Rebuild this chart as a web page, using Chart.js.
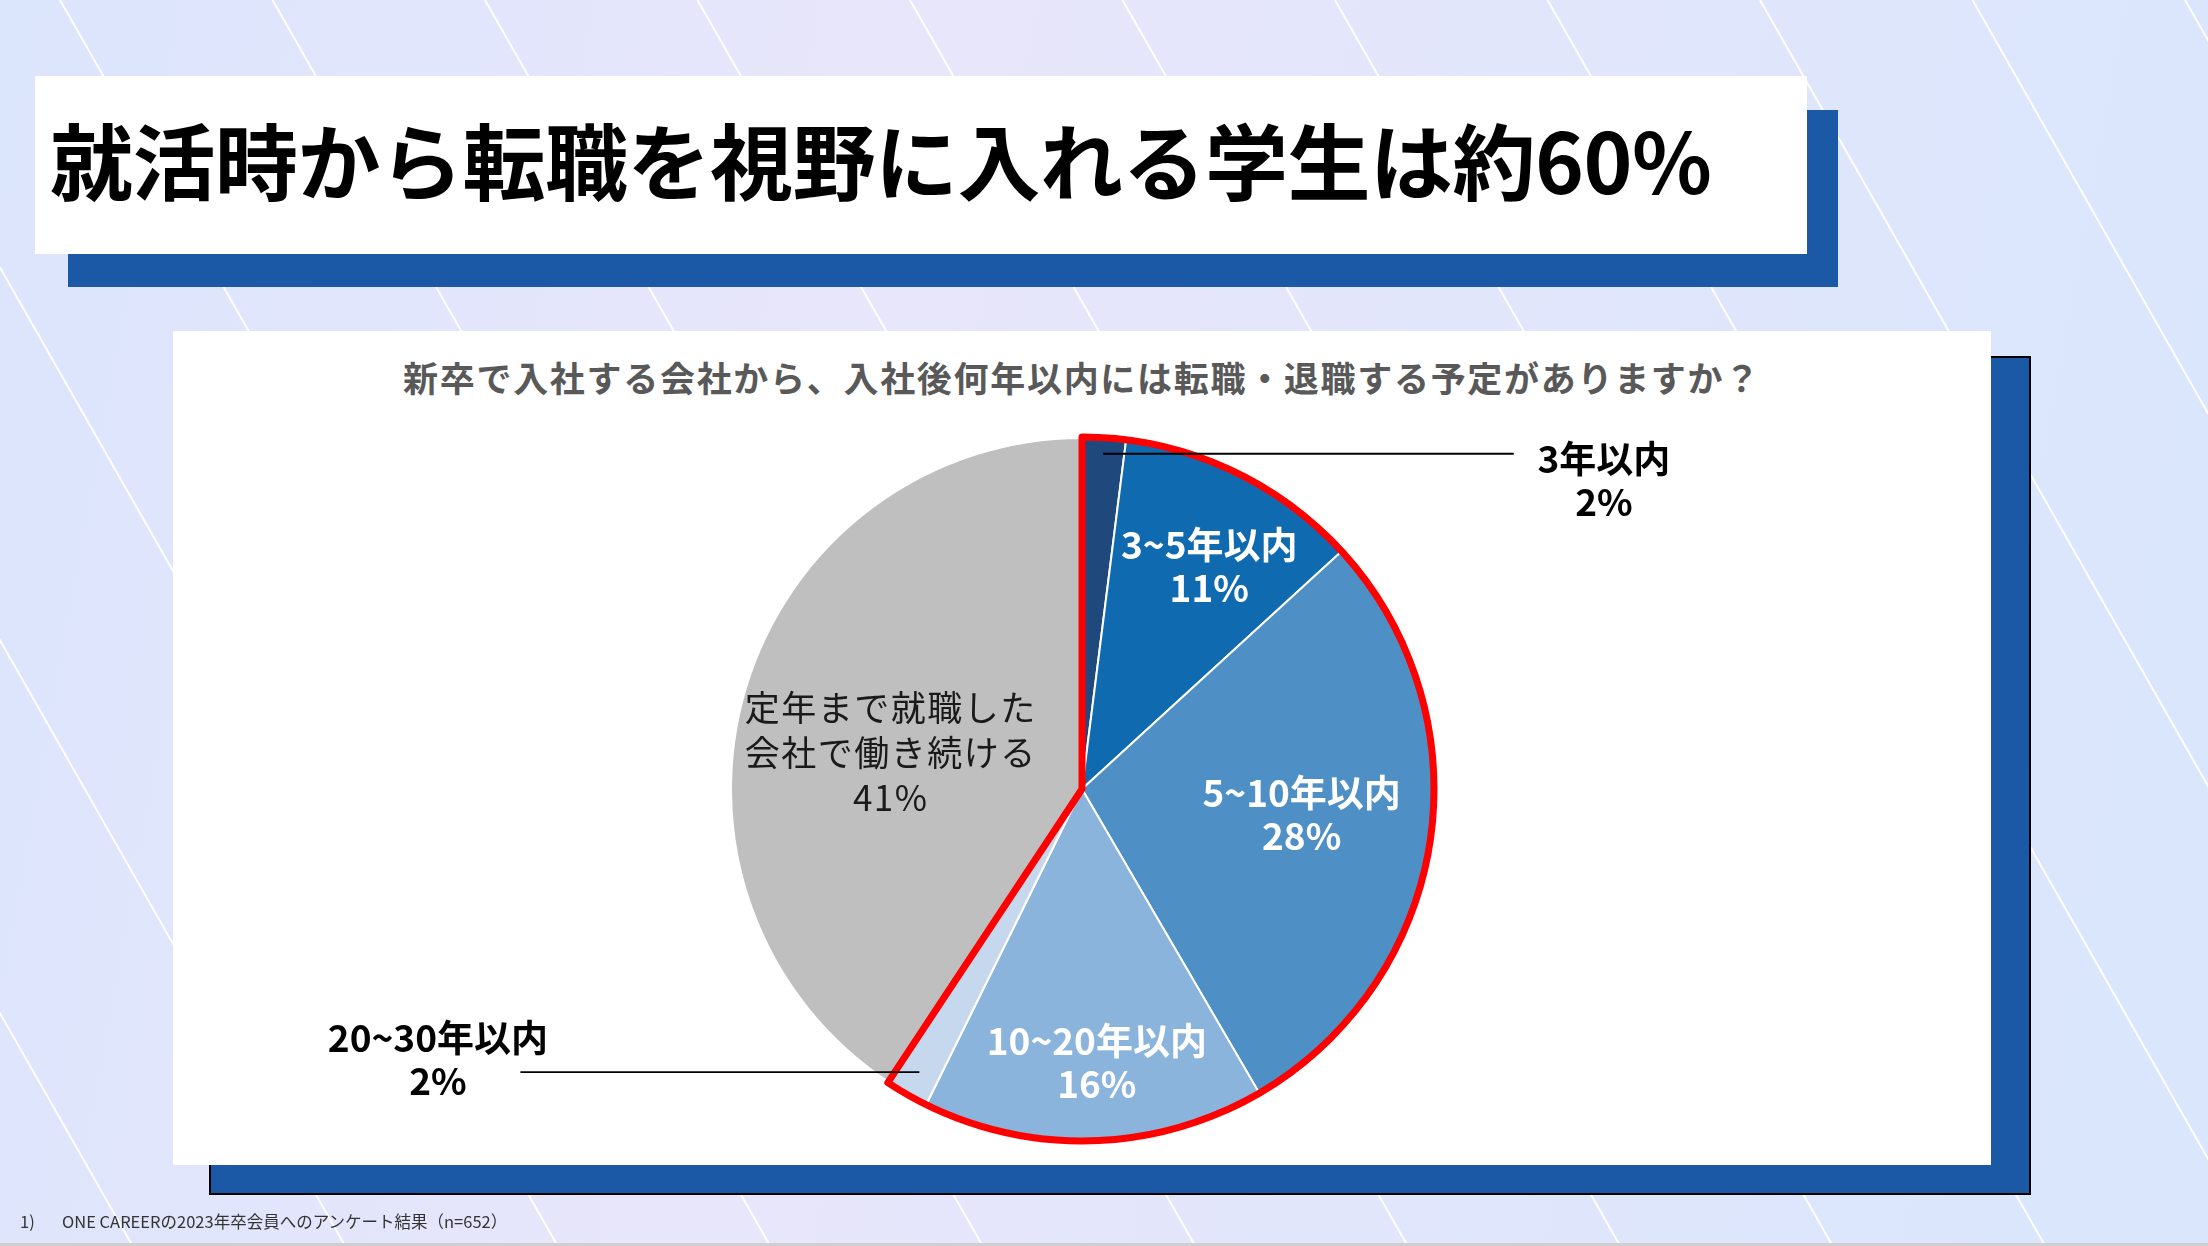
<!DOCTYPE html>
<html lang="ja">
<head>
<meta charset="utf-8">
<script src="https://cdn.jsdelivr.net/npm/chart.js@4.4.0/dist/chart.umd.min.js"></script>
<style>
  html, body { margin: 0; padding: 0; }
  body {
    width: 2208px; height: 1246px; overflow: hidden; position: relative;
    font-family: "Noto Sans CJK JP", "Noto Sans", sans-serif;
  }
  #bg { position: absolute; left: 0; top: 0; }
  .abs { position: absolute; }
  #titleShadow { left: 68px; top: 110px; width: 1770px; height: 177px; background: #1B59A7; }
  #titleBox { left: 35px; top: 76px; width: 1772px; height: 178px; background: #fff; }
  #titleText {
    left: 50px; top: 71px; height: 178px; line-height: 174px;
    font-size: 83px; font-weight: 700; color: #000; white-space: nowrap; letter-spacing: -0.5px;
  }
  #panelShadow { left: 209px; top: 356px; width: 1818px; height: 835px; background: #1B59A7; border: 2px solid #000; }
  #panel { left: 173px; top: 331px; width: 1818px; height: 834px; background: #fff; }
  #question {
    left: 173px; top: 352px; width: 1818px; text-align: center;
    font-size: 35px; font-weight: 700; color: #595959; letter-spacing: 1.7px; line-height: 50px;
  }
  #chartBox { left: 173px; top: 331px; width: 1818px; height: 834px; }
  #note { left: 20px; top: 1208px; font-size: 16.5px; color: #333; white-space: nowrap; line-height: 26px; }
  #note span { display: inline-block; width: 42px; }
  #bottomLine { left: 0; top: 1243px; width: 2208px; height: 3px; background: #CFCFCF; }
</style>
</head>
<body>
<canvas id="bg" width="2208" height="1246"></canvas>
<div class="abs" id="titleShadow"></div>
<div class="abs" id="titleBox"></div>
<div class="abs" id="titleText">就活時から転職を視野に入れる学生は約60%</div>
<div class="abs" id="panelShadow"></div>
<div class="abs" id="panel"></div>
<div class="abs" id="question">新卒で入社する会社から、入社後何年以内には転職・退職する予定がありますか？</div>
<div class="abs" id="chartBox"><canvas id="pie" width="1818" height="834"></canvas></div>
<div class="abs" id="note"><span>1)</span>ONE CAREERの2023年卒会員へのアンケート結果（n=652）</div>
<div class="abs" id="bottomLine"></div>

<script>
// answers, clockwise from 12 o'clock
const categories = ['3年以内', '3~5年以内', '5~10年以内', '10~20年以内', '20~30年以内', '定年まで就職した\n会社で働き続ける'];
const shares = [2.0, 11.2, 28.4, 15.7, 2.0, 40.7];
const colors = ['#1F497D', '#106AB0', '#4E8FC5', '#8AB4DB', '#C5D8EE', '#BFBFBF'];

// the slices that mean "plans to change jobs" get the red outline
const outlinedUpTo = 4;

// where each label sits: inside the slice, or out on a leader line
const labelPlaces = [
  { callout: true, startR: 0.957, lineEnd: 1.23, textX: 1.487, textY: 5, dark: true },
  { t: 0.56, r: 0.73 },
  { t: 0.48, r: 0.63 },
  { t: 0.48, r: 0.78 },
  { callout: true, startR: 0.93, lineEnd: -1.6, textX: -1.835, textY: -34, dark: true },
  { t: 0.46, r: 0.555, dark: true, light: true }
];

// background: soft gradient with thin diagonal stripes
function drawBackground() {
  const c = document.getElementById('bg');
  const ctx = c.getContext('2d');
  const g = ctx.createLinearGradient(0, 0, 2208, 400);
  g.addColorStop(0, '#DBE5FC');
  g.addColorStop(0.4, '#E8E6FB');
  g.addColorStop(1, '#DAE6FC');
  ctx.fillStyle = g;
  ctx.fillRect(0, 0, 2208, 1246);
  ctx.strokeStyle = 'rgba(255,255,255,0.95)';
  ctx.lineWidth = 2;
  for (let k = -8; k < 12; k++) {
    const x0 = 60 + k * 212.5;
    ctx.beginPath();
    ctx.moveTo(x0, 0);
    ctx.lineTo(x0 + 0.57 * 1246, 1246);
    ctx.stroke();
  }
}
drawBackground();

const pieNotes = {
  id: 'pieNotes',
  afterDatasetsDraw(chart) {
    const ctx = chart.ctx;
    const arcs = chart.getDatasetMeta(0).data;
    const values = chart.data.datasets[0].data;
    const a0 = arcs[0].getProps(['x', 'y', 'startAngle', 'outerRadius'], true);
    const cx = a0.x, cy = a0.y, R = a0.outerRadius;

    // red outline round the first slices together
    const endA = arcs[outlinedUpTo].getProps(['endAngle'], true).endAngle;
    ctx.save();
    ctx.beginPath();
    ctx.moveTo(cx, cy);
    ctx.arc(cx, cy, R + 1, a0.startAngle, endA);
    ctx.closePath();
    ctx.strokeStyle = '#FF0000';
    ctx.lineWidth = 7;
    ctx.lineJoin = 'round';
    ctx.stroke();
    ctx.restore();

    ctx.save();
    ctx.textAlign = 'center';
    ctx.textBaseline = 'middle';
    arcs.forEach((arc, i) => {
      const p = arc.getProps(['startAngle', 'endAngle'], true);
      const place = labelPlaces[i];
      const lines = chart.data.labels[i].split('\n').concat(Math.round(values[i]) + '%');
      const lh = place.light ? 45 : 43;
      let tx, ty;
      if (place.callout) {
        const mid = (p.startAngle + p.endAngle) / 2;
        const sx = cx + Math.cos(mid) * R * place.startR;
        const sy = cy + Math.sin(mid) * R * place.startR;
        ctx.beginPath();
        ctx.moveTo(sx, sy);
        ctx.lineTo(cx + R * place.lineEnd, sy);
        ctx.strokeStyle = '#000';
        ctx.lineWidth = 1.8;
        ctx.stroke();
        tx = cx + R * place.textX;
        ty = sy + place.textY;
      } else {
        const a = p.startAngle + place.t * (p.endAngle - p.startAngle);
        tx = cx + Math.cos(a) * R * place.r;
        ty = cy + Math.sin(a) * R * place.r - (lines.length - 1) * lh / 2;
      }
      if (place.light) {
        ctx.font = '400 35px "Noto Sans CJK JP"';
        ctx.letterSpacing = '1.5px';
        ctx.fillStyle = '#1a1a1a';
      } else {
        ctx.font = '700 37px "Noto Sans CJK JP"';
        ctx.letterSpacing = '0px';
        ctx.fillStyle = place.dark ? '#000' : '#fff';
      }
      lines.forEach((s, j) => ctx.fillText(s, tx, ty + j * lh));
    });
    ctx.restore();
  }
};

new Chart(document.getElementById('pie'), {
  type: 'pie',
  data: {
    labels: categories,
    datasets: [{
      data: shares,
      backgroundColor: colors,
      borderColor: '#ffffff',
      borderWidth: 2,
      hoverOffset: 0
    }]
  },
  options: {
    responsive: false,
    animation: false,
    radius: 351,
    layout: { padding: { top: 82 } },
    plugins: {
      legend: { display: false },
      tooltip: { enabled: false }
    }
  },
  plugins: [pieNotes]
});
</script>
</body>
</html>
